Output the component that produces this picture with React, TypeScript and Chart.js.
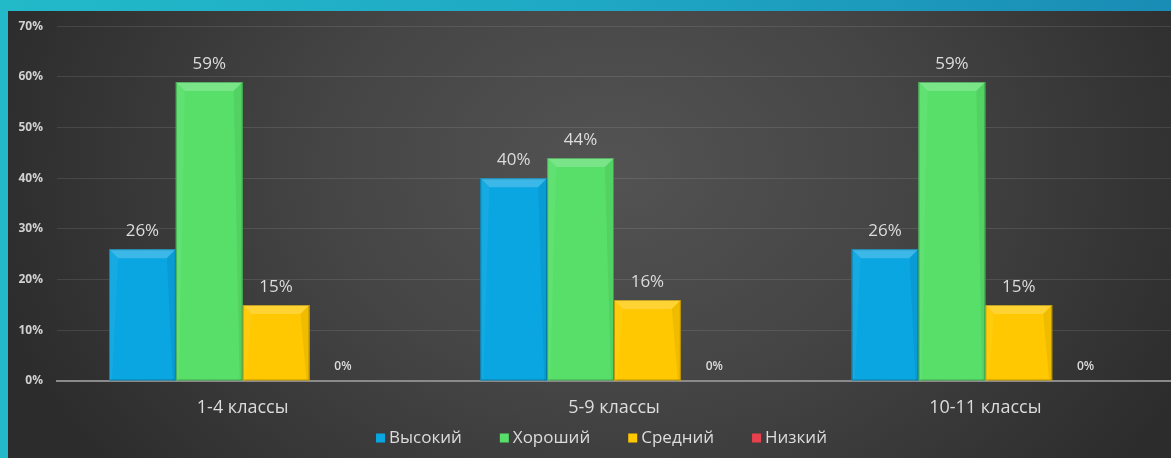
import { useEffect, useRef } from "react";
import { Chart, registerables } from "chart.js";

Chart.register(...registerables);

const categories = ["1-4 классы", "5-9 классы", "10-11 классы"];
const seriesNames = ["Высокий", "Хороший", "Средний", "Низкий"];
const highValues = [26, 40, 26];
const goodValues = [59, 44, 59];
const midValues = [15, 16, 15];
const lowValues = [0, 0, 0];
const yMax = 70;
const yStep = 10;
const seriesColors = ["#0aa6e2", "#58df6a", "#ffc800", "#e8404f"];
const FONT = "'Open Sans', 'Noto Sans', sans-serif";

function shade(hex: string, amt: number): string {
  const n = parseInt(hex.slice(1), 16);
  const r = (n >> 16) & 255, g = (n >> 8) & 255, b = n & 255;
  const f = (c: number) => Math.max(0, Math.min(255, Math.round(amt >= 0 ? c + (255 - c) * amt : c * (1 + amt))));
  return `rgb(${f(r)},${f(g)},${f(b)})`;
}

const bevelPlugin = {
  id: "bevel",
  afterDatasetsDraw(chart: any) {
    const ctx = chart.ctx;
    chart.data.datasets.forEach((ds: any, di: number) => {
      const meta = chart.getDatasetMeta(di);
      meta.data.forEach((el: any, i: number) => {
        const v = ds.data[i];
        const p = el.getProps(["x", "y", "base", "width"], true);
        const left = p.x - p.width / 2;
        const right = p.x + p.width / 2;
        const top = p.y;
        const base = p.base;
        const h = base - top;
        if (h > 2) {
          const b = Math.min(9, h / 2);
          const col = ds.backgroundColor as string;
          ctx.save();
          ctx.fillStyle = shade(col, 0.2);
          ctx.beginPath();
          ctx.moveTo(left, top);
          ctx.lineTo(right, top);
          ctx.lineTo(right - b, top + b);
          ctx.lineTo(left + b, top + b);
          ctx.closePath();
          ctx.fill();
          ctx.fillStyle = shade(col, -0.06);
          ctx.beginPath();
          ctx.moveTo(right, top);
          ctx.lineTo(right, base);
          ctx.lineTo(right - 3, base);
          ctx.lineTo(right - b, top + b);
          ctx.closePath();
          ctx.fill();
          ctx.fillStyle = shade(col, 0.05);
          ctx.beginPath();
          ctx.moveTo(left, top);
          ctx.lineTo(left + b, top + b);
          ctx.lineTo(left + 3, base);
          ctx.lineTo(left, base);
          ctx.closePath();
          ctx.fill();
          ctx.strokeStyle = "rgba(0,0,0,0.25)";
          ctx.lineWidth = 1;
          ctx.strokeRect(left + 0.5, top + 0.5, p.width - 1, h - 1);
          ctx.restore();
        }
        ctx.save();
        ctx.fillStyle = "#dcdcdc";
        ctx.textAlign = "center";
        ctx.textBaseline = "middle";
        if (v === 0) {
          ctx.font = `600 12px ${FONT}`;
          ctx.fillText(v + "%", p.x, base - 14);
        } else {
          ctx.font = `17px ${FONT}`;
          ctx.fillText(v + "%", p.x, top - 18);
        }
        ctx.restore();
      });
    });
  },
};

const legendPlugin = {
  id: "customLegend",
  afterDraw(chart: any) {
    const ctx = chart.ctx;
    const box = 9;
    const gapText = 4;
    const gapItem = 38;
    ctx.save();
    ctx.font = `17px ${FONT}`;
    const items = chart.data.datasets.map((ds: any) => ({
      label: ds.label as string,
      color: ds.backgroundColor as string,
      w: ctx.measureText(ds.label).width,
    }));
    const total =
      items.reduce((s: number, it: any) => s + box + gapText + it.w, 0) + gapItem * (items.length - 1);
    let x = chart.width / 2 + 12 - total / 2;
    const y = chart.chartArea.bottom + 57;
    ctx.textBaseline = "middle";
    ctx.textAlign = "left";
    items.forEach((it: any) => {
      ctx.fillStyle = it.color;
      ctx.fillRect(x, y - box / 2, box, box);
      ctx.fillStyle = "#dcdcdc";
      ctx.fillText(it.label, x + box + gapText, y);
      x += box + gapText + it.w + gapItem;
    });
    ctx.restore();
  },
};

export default function App() {
  const ref = useRef<HTMLCanvasElement | null>(null);
  useEffect(() => {
    if (!ref.current) return;
    const values = [highValues, goodValues, midValues, lowValues];
    const chart = new Chart(ref.current, {
      type: "bar",
      data: {
        labels: categories,
        datasets: seriesNames.map((name, i) => ({
          label: name,
          data: values[i],
          backgroundColor: seriesColors[i],
          borderWidth: 0,
          categoryPercentage: 0.72,
          barPercentage: 1,
        })),
      },
      options: {
        animation: false,
        responsive: true,
        maintainAspectRatio: false,
        layout: { padding: { top: 7, right: 0, left: 0, bottom: 0 } },
        plugins: {
          tooltip: { enabled: false },
          legend: { display: false },
        },
        scales: {
          x: {
            afterFit(scale: any) {
              scale.height = 77;
            },
            grid: { display: false, drawTicks: false },
            border: { display: true, color: "#8a8a8a", width: 2 },
            ticks: {
              color: "#dcdcdc",
              font: { family: FONT, size: 18 },
              padding: 16,
            },
          },
          y: {
            min: 0,
            max: yMax,
            afterFit(scale: any) {
              scale.width = 49;
            },
            border: { display: false },
            grid: { color: "rgba(255,255,255,0.1)", drawTicks: false, lineWidth: 1 },
            ticks: {
              stepSize: yStep,
              color: "#d0d0d0",
              font: { family: FONT, size: 12, weight: "bold" },
              padding: 14,
              callback: (v: any) => v + "%",
            },
          },
        },
      },
      plugins: [bevelPlugin, legendPlugin],
    } as any);
    return () => chart.destroy();
  }, []);

  return (
    <div
      style={{
        position: "fixed",
        left: 0,
        top: 0,
        width: 1171,
        height: 458,
        background: "linear-gradient(90deg, #22b9c9 0%, #1fa8c4 50%, #1a8cb5 100%)",
      }}
    >
      <div
        style={{
          position: "absolute",
          left: 8,
          top: 11,
          width: 1163,
          height: 447,
          background:
            "radial-gradient(ellipse 55% 110% at 52% 35%, #535353 0%, #454545 45%, #2c2c2c 100%)",
        }}
      />
      <div
        style={{
          position: "absolute",
          left: 8,
          top: 5,
          width: 1163,
          height: 453,
        }}
      >
        <canvas ref={ref} />
      </div>
    </div>
  );
}
